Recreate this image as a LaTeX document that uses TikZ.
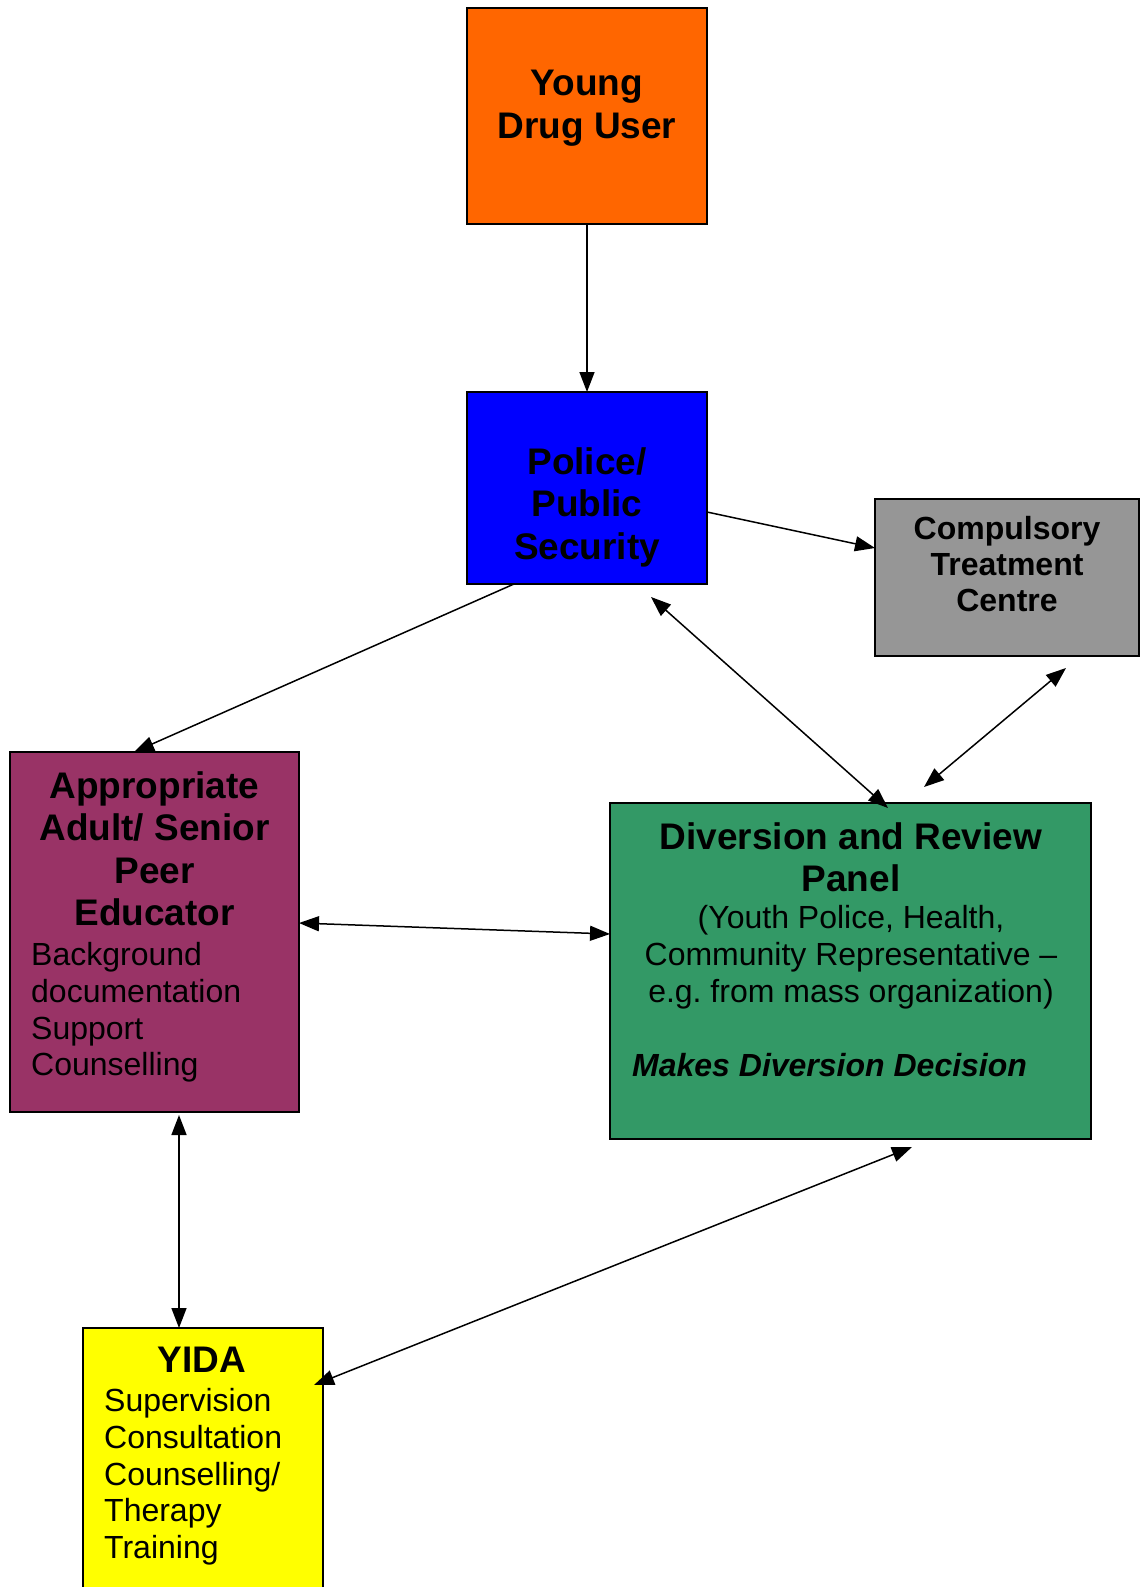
\documentclass[tikz,border=0pt]{standalone}
\usepackage{fontspec}
\setmainfont{Liberation Sans}
\usetikzlibrary{arrows.meta,calc}
\definecolor{cOrange}{HTML}{FF6600}
\definecolor{cBlue}{HTML}{0000FF}
\definecolor{cGray}{HTML}{969696}
\definecolor{cPlum}{HTML}{993366}
\definecolor{cGreen}{HTML}{339966}
\definecolor{cYellow}{HTML}{FFFF00}
\tikzset{
  box/.style={draw=black, line width=2pt, anchor=north west, inner sep=0pt, outer sep=0pt},
  bigbold/.style={font=\fontsize{37}{42.5}\selectfont\bfseries, inner sep=0pt, anchor=north, align=center},
  midbold/.style={font=\fontsize{32}{36}\selectfont\bfseries, inner sep=0pt, anchor=north, align=center},
  bodyc/.style={font=\fontsize{32}{36.8}\selectfont, inner sep=0pt, anchor=north, align=center},
  bodyl/.style={font=\fontsize{32}{36.8}\selectfont, inner sep=0pt, anchor=north west, align=left},
  arr/.style={line width=1.5pt, -{Triangle[length=20pt,width=15pt]}},
  darr/.style={line width=1.5pt, {Triangle[length=20pt,width=15pt]}-{Triangle[length=20pt,width=15pt]}}
}
\frenchspacing
\begin{document}
\frenchspacing
\begin{tikzpicture}[x=1pt,y=-1pt]
\clip (0,0) rectangle (1143,1587);
\fill[white] (0,0) rectangle (1143,1587);
% boxes
\node[box, fill=cOrange, minimum width=240pt, minimum height=216pt] (ydu) at (467,8) {};
\node[box, fill=cBlue, minimum width=240pt, minimum height=192pt] (pol) at (467,392) {};
\node[box, fill=cGray, minimum width=264pt, minimum height=157pt] (ctc) at (875,499) {};
\node[box, fill=cPlum, minimum width=289pt, minimum height=360pt] (app) at (10,752) {};
\node[box, fill=cGreen, minimum width=481pt, minimum height=336pt] (div) at (610,803) {};
\node[box, fill=cYellow, minimum width=240pt, minimum height=280pt] (yida) at (83,1328) {};
% texts
\node[bigbold] (tydu) at (587,70) {Young\\Drug User};
\node[bigbold] (tpol) at (587,447) {Police/\\Public\\Security};
\node[midbold] (tctc) at (1007,516) {Compulsory\\Treatment\\Centre};
\node[bigbold] (tapp) at (154.5,771) {Appropriate\\Adult/ Senior\\Peer\\Educator};
\node[bodyl] (bapp) at (31,942) {Background\\documentation\\Support\\Counselling};
\node[bigbold] (tdiv) at (851,822) {Diversion and Review\\Panel};
\node[bodyc] (bdiv) at (851,905) {(Youth Police, Health,\\Community Representative –\\e.g. from mass organization)};
\node[font=\fontsize{32}{36.8}\selectfont\bfseries\itshape, inner sep=0pt, anchor=north west] (idiv) at (632,1053) {Makes Diversion Decision};
\node[bigbold] (tyida) at (202,1347) {YIDA};
\node[bodyl] (byida) at (104,1388) {Supervision\\Consultation\\Counselling/\\Therapy\\Training};
% connectors
\draw[arr] (ydu.south) -- (pol.north);
\draw[arr] ($(pol.north east)+(0,120)$) -- ($(ctc.north west)+(0,49)$);
\draw[arr] ($(pol.south west)+(47,0)$) -- ($(app.north west)+(124,0)$);
\draw[darr] ($(pol.south west)+(184,13)$) -- ($(div.north west)+(278,5)$);
\draw[darr] ($(ctc.south west)+(191,12)$) -- ($(div.north west)+(314,-16)$);
\draw[darr] ($(app.north east)+(0,171)$) -- ($(div.north west)+(0,131)$);
\draw[darr] ($(app.south west)+(169,3)$) -- ($(yida.north west)+(96,0)$);
\draw[darr] ($(div.south west)+(302,8)$) -- ($(yida.north east)+(-9,57)$);
\end{tikzpicture}
\end{document}
